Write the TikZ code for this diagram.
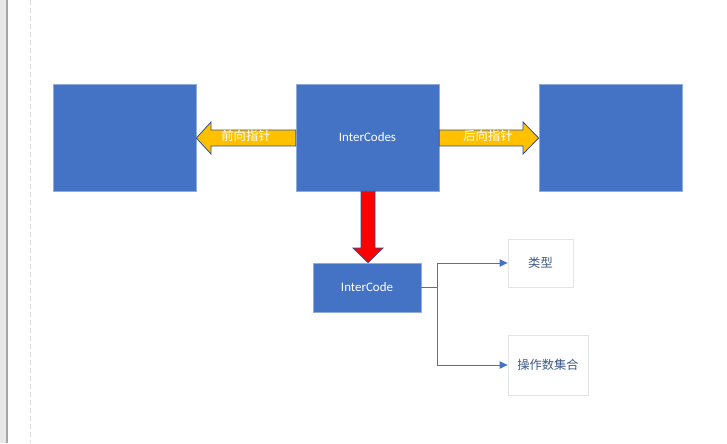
\documentclass[tikz,border=0pt]{standalone}
\usepackage{fontspec}
\setmainfont{Carlito}
\newfontfamily\cjk{Noto Sans CJK SC}
\usetikzlibrary{arrows.meta}
\definecolor{boxblue}{HTML}{4472C4}
\definecolor{boxedge}{HTML}{8FAADC}
\definecolor{arrowyellow}{HTML}{FFC000}
\definecolor{arrowedge}{HTML}{2F528F}
\definecolor{labelgray}{HTML}{3F5A86}
\definecolor{framegray}{HTML}{E2E4E8}
\tikzset{
  bluebox/.style={draw=boxedge, line width=0.5pt, fill=boxblue, text=white, inner sep=0pt},
  whitebox/.style={draw=framegray, line width=0.6pt, fill=white, text=labelgray, inner sep=0pt},
  fatarrow/.style={draw=arrowedge, line width=0.6pt, line join=miter},
  link/.style={draw=boxblue, line width=0.75pt, -{Triangle[length=6pt,width=5.5pt]}},
  cjklabel/.style={font=\cjk\fontsize{9.2pt}{11pt}\selectfont},
  latlabel/.style={font=\fontsize{9.7pt}{11pt}\selectfont}
}
\begin{document}
\begin{tikzpicture}[x=0.75pt,y=-0.75pt]
\useasboundingbox (0,0) rectangle (727,443);
% page background elements
\fill[white] (0,0) rectangle (727,443);
\fill[black!9] (0,0) rectangle (7,443);
\draw[black!35, line width=0.9pt] (7,0) -- (7,443);
\draw[black!13, dashed, dash pattern=on 4pt off 2pt, line width=0.5pt] (30,0) -- (30,443);
% main boxes
\node[bluebox, minimum width=143*0.75pt, minimum height=107*0.75pt] (prev) at (124.5,137.5) {};
\node[bluebox, minimum width=143*0.75pt, minimum height=107*0.75pt, latlabel] (codes) at (367.5,137.5) {InterCodes};
\node[bluebox, minimum width=143*0.75pt, minimum height=107*0.75pt] (next) at (610.5,137.5) {};
\node[bluebox, minimum width=108*0.75pt, minimum height=49*0.75pt, latlabel] (code) at (367,287.5) {InterCode};
\node[whitebox, minimum width=65*0.75pt, minimum height=48*0.75pt, cjklabel] (type) at (540.5,263) {类型};
\node[whitebox, minimum width=80*0.75pt, minimum height=60*0.75pt, cjklabel] (ops) at (548,365) {操作数集合};
% fat arrows
\draw[fatarrow, fill=arrowyellow] (codes.west |- 0,130) -- (211,130) -- (211,122) -- (prev.east |- 0,138) -- (211,154) -- (211,146) -- (codes.west |- 0,146) -- cycle;
\node[cjklabel, text=white] (prevlabel) at (246,136) {前向指针};
\draw[fatarrow, fill=arrowyellow] (codes.east |- 0,130) -- (523,130) -- (523,122) -- (next.west |- 0,138) -- (523,154) -- (523,146) -- (codes.east |- 0,146) -- cycle;
\node[cjklabel, text=white] (nextlabel) at (488,136) {后向指针};
\draw[fatarrow, fill=red] (361,0 |- codes.south) -- (375,0 |- codes.south) -- (375,248) -- (383,248) -- (368,0 |- code.north) -- (353,248) -- (361,248) -- cycle;
% connectors
\coordinate (fork) at (437,287.5);
\draw[link] (code.east) -- (fork) |- (type.west);
\draw[link] (fork) |- (ops.west);
\end{tikzpicture}
\end{document}
